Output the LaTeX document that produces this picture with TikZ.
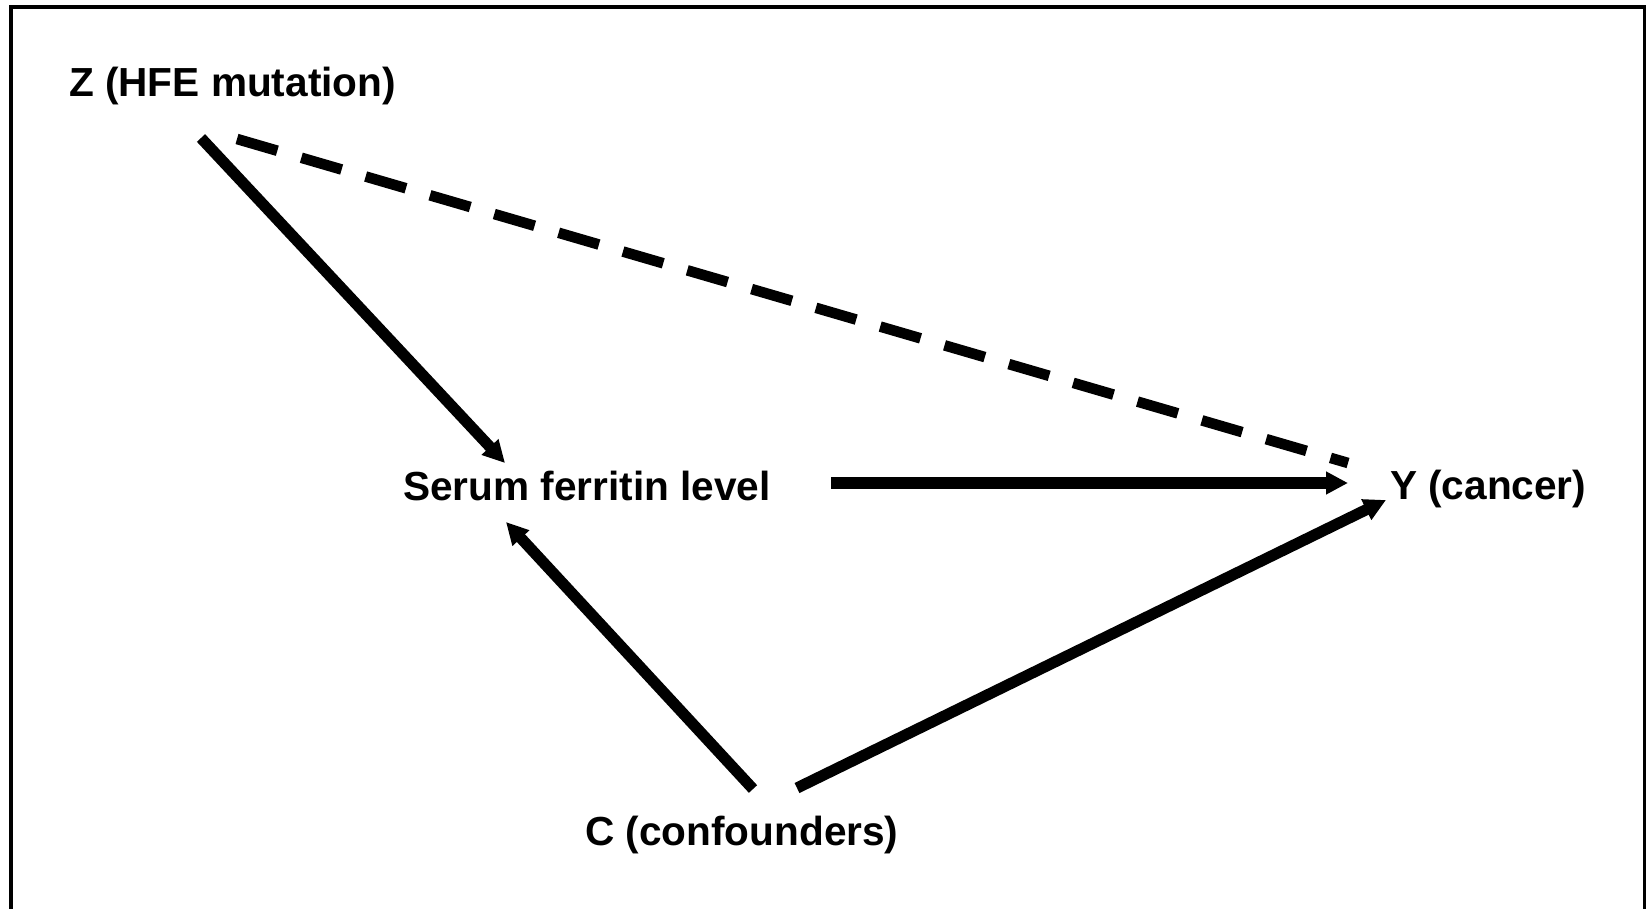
\documentclass[tikz,border=0pt]{standalone}
\usepackage{fontspec}
\setmainfont{Liberation Sans}
\usetikzlibrary{arrows.meta,calc}
\begin{document}
\begin{tikzpicture}[x=0.5pt, y=-0.5pt,
    lbl/.style={inner sep=0, outer sep=0, anchor=base west, font=\fontsize{20.3}{24}\selectfont\bfseries},
    arr/.style={line width=5.6pt, -{Triangle[length=11pt, width=10.8pt]}},
    dsh/.style={line width=5.3pt, dash pattern=on 21pt off 12.5pt}]
\useasboundingbox (0,0) rectangle (1647,909);
\draw[line width=1.9pt] (10.8,915)--(10.8,7)--(1644.5,7)--(1644.5,915);
% variables
\node[lbl] (zmut) at (69,97) {Z (HFE mutation)};
\node[lbl] (serum) at (403,500) {Serum ferritin level};
\node[lbl] (ycan) at (1390,499) {Y (cancer)};
\node[lbl] (conf) at (585,845) {C (confounders)};
% paths
\draw[arr] ($(zmut.base west)+(132,41)$)--($(serum.base west)+(102,-37)$);
\draw[dsh] ($(zmut.base west)+(168,42)$)--($(ycan.base west)+(-42,-36)$);
\draw[arr] ($(serum.base west)+(428,-17)$)--($(ycan.base west)+(-42,-16)$);
\draw[arr] ($(conf.base west)+(168,-56)$)--($(serum.base west)+(103,22)$);
\draw[arr] ($(conf.base west)+(212,-57)$)--($(ycan.base west)+(-4,1)$);
\end{tikzpicture}
\end{document}
